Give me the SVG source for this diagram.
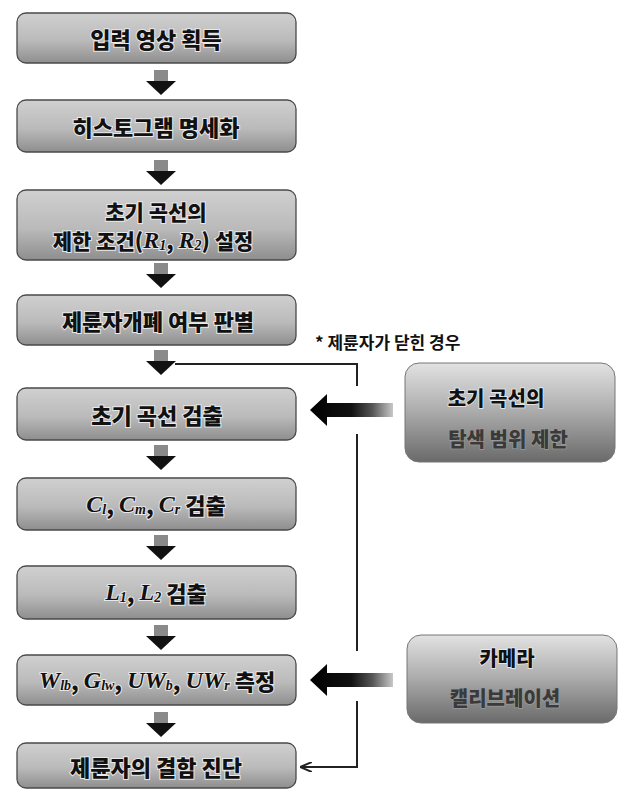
<svg xmlns="http://www.w3.org/2000/svg" width="622" height="790" viewBox="0 0 622 790">
<style>
.box{fill:url(#gBox);stroke:#4a4a4a;stroke-width:1.3}
.rbox{fill:url(#gRBox);stroke:#777;stroke-width:1}
.t{font-family:"Noto Sans CJK KR","Noto Sans",sans-serif;font-weight:900;font-size:22px;fill:#111;text-anchor:middle;dominant-baseline:central;stroke:#e8e8e8;stroke-width:2;paint-order:stroke}
.t2{font-size:21px}
.rt{font-family:"Noto Sans CJK KR","Noto Sans",sans-serif;font-weight:900;font-size:20px;fill:#111;text-anchor:middle;dominant-baseline:central;stroke:#eee;stroke-width:1.5;paint-order:stroke}
.rt2{font-family:"Noto Sans CJK KR","Noto Sans",sans-serif;font-weight:900;font-size:20px;fill:#3a3a3a;text-anchor:middle;dominant-baseline:central;stroke:#999;stroke-width:1.5;paint-order:stroke}
.it{font-family:"Liberation Serif",serif;font-style:italic;font-weight:bold;font-size:24px}
.sub{font-family:"Liberation Serif",serif;font-style:italic;font-weight:bold;font-size:14px}
.note{font-family:"Noto Sans CJK KR","Noto Sans",sans-serif;font-weight:700;font-size:17px;fill:#111}
.line{fill:none;stroke:#222;stroke-width:2}
</style>
<defs>
<linearGradient id="gBox" x1="0" y1="0" x2="0" y2="1">
<stop offset="0" stop-color="#d0d0d0"/>
<stop offset="0.55" stop-color="#bababa"/>
<stop offset="1" stop-color="#8e8e8e"/>
</linearGradient>
<linearGradient id="gRBox" x1="0" y1="0" x2="0" y2="1">
<stop offset="0" stop-color="#e2e2e2"/>
<stop offset="0.45" stop-color="#b0b0b0"/>
<stop offset="1" stop-color="#6a6a6a"/>
</linearGradient>
<linearGradient id="gLeft" x1="0" y1="0" x2="1" y2="0">
<stop offset="0" stop-color="#000"/>
<stop offset="0.5" stop-color="#111"/>
<stop offset="0.75" stop-color="#555"/>
<stop offset="1" stop-color="#c8c8c8"/>
</linearGradient>
<g id="down">
<rect x="-7" y="0" width="14" height="12" fill="#8a8a8a"/>
<path d="M-15,11 L15,11 L0,25 Z" fill="#111"/>
</g>
<g id="left">
<path d="M0,0 L17,-16 L17,-7 L83,-7 L83,7 L17,7 L17,16 Z" fill="url(#gLeft)"/>
</g>
<marker id="ah" viewBox="0 0 12 10" refX="12" refY="5" markerWidth="12" markerHeight="10" markerUnits="userSpaceOnUse" orient="auto">
<path d="M0,0 L12,5 L0,10" fill="none" stroke="#222" stroke-width="2"/>
</marker>
</defs>

<g id="connectors">
<use href="#down" x="161" y="70"/>
<use href="#down" x="161" y="160"/>
<use href="#down" x="161" y="263"/>
<use href="#down" x="161" y="350"/>
<use href="#down" x="161" y="445"/>
<use href="#down" x="161" y="535"/>
<use href="#down" x="161" y="625"/>
<use href="#down" x="161" y="712"/>
<path class="line" d="M175,364 L357,364 L357,386"/>
<path class="line" d="M357,434 L357,651"/>
<path class="line" d="M357,701 L357,767 L300,767" marker-end="url(#ah)"/>
<use href="#left" x="310" y="410"/>
<use href="#left" x="310" y="680"/>
</g>

<g id="n1"><rect class="box" x="17" y="13" width="279" height="50" rx="9"/><text class="t" x="156" y="38">입력 영상 획득</text></g>
<g id="n2"><rect class="box" x="17" y="100" width="279" height="52" rx="9"/><text class="t" x="156" y="126">히스토그램 명세화</text></g>
<g id="n3"><rect class="box" x="17" y="190" width="279" height="70" rx="9"/>
<text class="t t2" x="156" y="211">초기 곡선의</text>
<text class="t t2" x="153" y="240">제한 조건(<tspan class="it" font-size="21">R</tspan><tspan class="sub" font-size="12" dy="5">1</tspan><tspan dy="-5">, </tspan><tspan class="it" font-size="21">R</tspan><tspan class="sub" font-size="12" dy="5">2</tspan><tspan dy="-5">) 설정</tspan></text></g>
<g id="n4"><rect class="box" x="17" y="295" width="279" height="50" rx="9"/><text class="t" x="158" y="320">제륜자개폐 여부 판별</text></g>
<g id="n5"><rect class="box" x="17" y="388" width="279" height="52" rx="9"/><text class="t" x="157" y="414">초기 곡선 검출</text></g>
<g id="n6"><rect class="box" x="17" y="478" width="279" height="52" rx="9"/>
<text class="t" x="156" y="504"><tspan class="it">C</tspan><tspan class="sub" dy="5">l</tspan><tspan dy="-5">, </tspan><tspan class="it">C</tspan><tspan class="sub" dy="5">m</tspan><tspan dy="-5">, </tspan><tspan class="it">C</tspan><tspan class="sub" dy="5">r</tspan><tspan dy="-5"> 검출</tspan></text></g>
<g id="n7"><rect class="box" x="17" y="566" width="279" height="53" rx="9"/>
<text class="t" x="156" y="592"><tspan class="it">L</tspan><tspan class="sub" dy="5">1</tspan><tspan dy="-5">, </tspan><tspan class="it">L</tspan><tspan class="sub" dy="5">2</tspan><tspan dy="-5"> 검출</tspan></text></g>
<g id="n8"><rect class="box" x="17" y="655" width="279" height="50" rx="9"/>
<text class="t" x="157" y="680"><tspan class="it">W</tspan><tspan class="sub" dy="5">lb</tspan><tspan dy="-5">, </tspan><tspan class="it">G</tspan><tspan class="sub" dy="5">lw</tspan><tspan dy="-5">, </tspan><tspan class="it">UW</tspan><tspan class="sub" dy="5">b</tspan><tspan dy="-5">, </tspan><tspan class="it">UW</tspan><tspan class="sub" dy="5">r</tspan><tspan dy="-5"> 측정</tspan></text></g>
<g id="n9"><rect class="box" x="17" y="743" width="279" height="45" rx="9"/><text class="t" x="156" y="766">제륜자의 결함 진단</text></g>

<g id="note"><text class="note" x="315" y="349">* 제륜자가 닫힌 경우</text></g>

<g id="r1"><rect class="rbox" x="405" y="363" width="210" height="99" rx="14"/>
<text class="rt" x="496" y="397">초기 곡선의</text>
<text class="rt2" x="508" y="438">탐색 범위 제한</text></g>
<g id="r2"><rect class="rbox" x="407" y="635" width="210" height="88" rx="14"/>
<text class="rt" x="507" y="657">카메라</text>
<text class="rt2" x="505" y="697">캘리브레이션</text></g>
</svg>
